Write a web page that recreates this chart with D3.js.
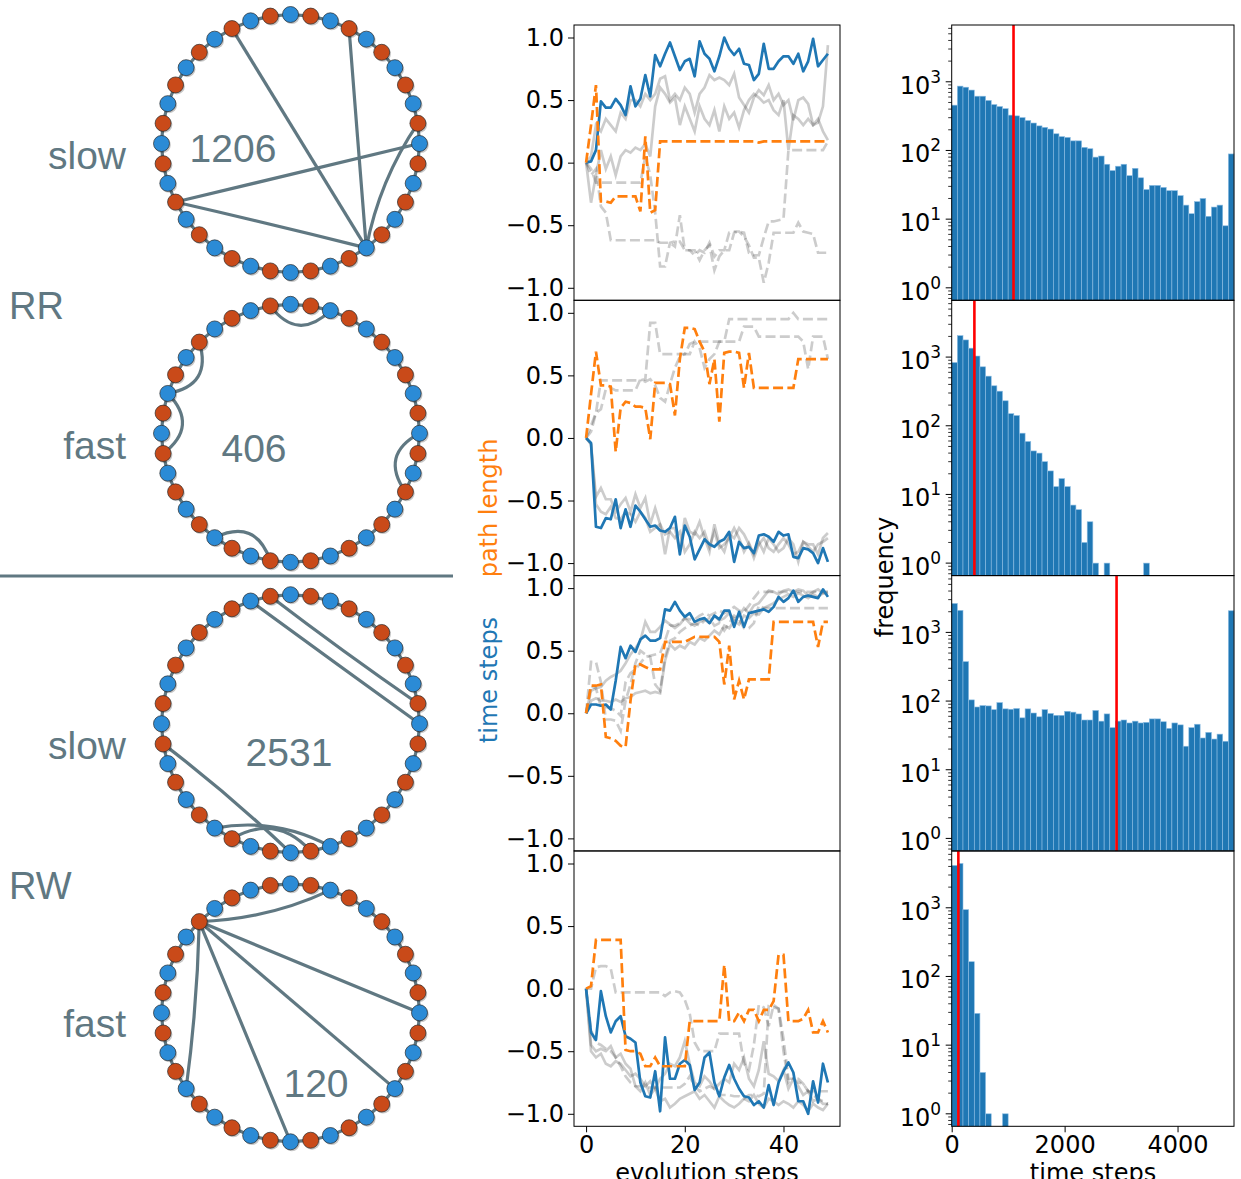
<!DOCTYPE html>
<html><head><meta charset="utf-8">
<script src="https://cdn.jsdelivr.net/npm/d3@7"></script>
<style>body{margin:0;background:#fff}svg{display:block}</style>
</head><body>
<script>
// ---------------- DATA ----------------
const nodeKinds = ["b","o","b","o","b","o","b","o","b","o","b","o","b","o","b","o","b","o","b","o",
                   "b","o","b","o","b","o","b","o","b","o","b","o","b","o","b","o","b","o","b","o"];
const edgesRRslow = [[37,16],[3,16],[27,10],[27,16],[9,16]];
const edgesRRfast = [[39,2],[35,32],[32,29],[10,13],[24,21]];
const edgesRWslow = [[38,10],[39,9],[29,20],[24,18],[23,19]];
const edgesRWfast = [[35,2],[35,10],[35,14],[35,20],[35,26]];
const circleNumbers = ["1206","406","2531","120"];
const speedLabels = ["slow","fast","slow","fast"];
const groupLabels = ["RR","RW"];

const blue1 = [0,0.01,0.1,0.49,0.44,0.44,0.51,0.46,0.38,0.61,0.45,0.51,0.70,0.53,0.86,0.77,0.87,0.96,0.85,0.74,0.81,0.83,0.69,0.97,0.87,0.83,0.73,0.85,1.0,0.91,0.86,0.91,0.79,0.78,0.66,0.71,0.95,0.75,0.75,0.81,0.85,0.85,0.79,0.87,0.73,0.81,0.99,0.77,0.82,0.87];
const orange1 = [0,0.3,0.62,-0.31,-0.31,-0.32,-0.27,-0.27,-0.27,-0.27,-0.27,-0.39,0.21,-0.40,-0.38,0.17,0.17,0.17,0.17,0.17,0.17,0.17,0.17,0.17,0.17,0.17,0.17,0.17,0.17,0.17,0.17,0.17,0.17,0.17,0.17,0.16,0.17,0.17,0.17,0.17,0.17,0.17,0.17,0.17,0.17,0.17,0.17,0.17,0.17,0.17];
const graySolid1a = [0,0.05,0.3,0.25,0.35,0.3,0.25,0.4,0.35,0.5,0.5,0.45,0.55,0.5,0.55,0.67,0.69,0.5,0.55,0.5,0.6,0.55,0.4,0.55,0.6,0.7,0.66,0.68,0.66,0.62,0.71,0.52,0.46,0.4,0.52,0.58,0.54,0.62,0.5,0.55,0.46,0.5,0.34,0.5,0.52,0.47,0.3,0.32,0.45,0.94];
const graySolid1b = [0,-0.32,-0.1,0.1,-0.05,0.05,-0.1,0.05,0.1,0.08,0.12,0.1,0.15,0.05,0.45,0.6,0.55,0.48,0.52,0.3,0.45,0.35,0.25,0.45,0.35,0.3,0.42,0.25,0.45,0.35,0.4,0.28,0.42,0.5,0.55,0.52,0.48,0.5,0.42,0.38,0.5,0.1,0.38,0.35,0.3,0.35,0.3,0.35,0.25,0.18];
const grayDash1a = [0,-0.05,-0.16,-0.16,-0.16,-0.16,-0.16,-0.16,-0.16,-0.16,-0.16,-0.16,0.05,-0.1,-0.4,-0.83,-0.83,-0.64,-0.63,-0.63,-0.70,-0.70,-0.70,-0.78,-0.70,-0.66,-0.86,-0.75,-0.70,-0.70,-0.56,-0.55,-0.56,-0.72,-0.74,-0.74,-0.6,-0.47,-0.47,-0.46,-0.45,0.1,0.1,0.1,0.1,0.1,0.1,0.1,0.1,0.17];
const grayDash1b = [0,-0.1,-0.05,-0.35,-0.4,-0.62,-0.62,-0.62,-0.62,-0.62,-0.62,-0.62,-0.62,-0.62,-0.62,-0.64,-0.64,-0.64,-0.67,-0.42,-0.70,-0.70,-0.74,-0.70,-0.72,-0.64,-0.75,-0.70,-0.70,-0.56,-0.55,-0.55,-0.59,-0.66,-0.76,-0.76,-0.96,-0.80,-0.56,-0.56,-0.56,-0.56,-0.56,-0.48,-0.55,-0.56,-0.57,-0.72,-0.72,-0.72];

const blue2 = [0,-0.04,-0.71,-0.72,-0.64,-0.65,-0.49,-0.72,-0.57,-0.71,-0.54,-0.59,-0.65,-0.71,-0.70,-0.74,-0.75,-0.72,-0.63,-0.93,-0.70,-0.79,-0.97,-0.89,-0.81,-0.85,-0.87,-0.83,-0.81,-0.75,-0.99,-0.83,-0.88,-0.87,-0.92,-0.78,-0.77,-0.79,-0.83,-0.75,-0.78,-0.77,-0.95,-0.96,-0.88,-0.89,-0.92,-1.0,-0.88,-0.99];
const orange2 = [0,0.35,0.69,0.42,0.42,0.41,-0.11,0.24,0.29,0.28,0.25,0.25,0.24,-0.01,0.44,0.44,0.44,0.43,0.18,0.63,0.88,0.88,0.87,0.77,0.69,0.43,0.63,0.13,0.68,0.69,0.69,0.68,0.40,0.68,0.40,0.40,0.40,0.40,0.40,0.40,0.40,0.40,0.40,0.63,0.63,0.63,0.63,0.63,0.63,0.63];
const graySolid2a = [0,-0.05,-0.47,-0.40,-0.49,-0.49,-0.59,-0.53,-0.48,-0.59,-0.45,-0.56,-0.48,-0.69,-0.56,-0.69,-0.93,-0.72,-0.72,-0.91,-0.64,-0.75,-0.77,-0.67,-0.80,-0.91,-0.69,-0.85,-0.91,-0.77,-0.80,-0.72,-0.77,-0.85,-0.96,-0.85,-0.80,-0.88,-0.91,-0.85,-0.80,-0.85,-0.93,-0.91,-0.83,-0.85,-0.85,-0.93,-0.80,-0.76];
const graySolid2b = [0,-0.05,-0.53,-0.59,-0.61,-0.55,-0.64,-0.65,-0.59,-0.61,-0.67,-0.59,-0.64,-0.75,-0.72,-0.69,-0.77,-0.75,-0.80,-0.75,-0.91,-0.85,-0.75,-0.80,-0.75,-0.87,-0.75,-0.88,-0.85,-0.80,-0.72,-0.80,-0.91,-0.84,-0.93,-0.83,-0.91,-0.80,-0.85,-0.91,-0.88,-0.80,-0.85,-0.99,-0.83,-0.87,-0.91,-0.85,-0.83,-0.80];
const grayDash2a = [0,0.05,0.2,0.46,0.46,0.46,0.46,0.46,0.46,0.46,0.46,0.46,0.47,0.92,0.92,0.67,0.67,0.67,0.67,0.67,0.67,0.75,0.77,0.77,0.77,0.77,0.77,0.77,0.77,0.95,0.95,0.95,0.95,0.95,0.95,0.95,0.95,0.95,0.95,0.95,0.95,0.95,1.0,0.95,0.95,0.95,0.95,0.95,0.95,0.95];
const grayDash2b = [0,0.1,0.2,0.23,0.39,0.40,0.38,0.38,0.38,0.38,0.38,0.47,0.45,0.47,0.42,0.32,0.29,0.43,0.56,0.65,0.67,0.67,0.77,0.72,0.56,0.63,0.67,0.77,0.77,0.77,0.77,0.77,0.89,0.89,0.89,0.81,0.81,0.81,0.81,0.81,0.81,0.81,0.81,0.81,0.77,0.55,0.81,0.81,0.81,0.63];

const blue3 = [0,0.07,0.07,0.06,0.07,0.03,0.26,0.53,0.44,0.54,0.49,0.59,0.62,0.58,0.58,0.6,0.83,0.82,0.89,0.82,0.77,0.80,0.73,0.75,0.76,0.72,0.78,0.75,0.82,0.82,0.69,0.81,0.69,0.80,0.81,0.82,0.83,0.81,0.85,0.93,0.89,0.92,0.98,0.89,0.93,0.94,0.93,0.92,0.99,0.93];
const orange3 = [0,0.22,0.22,0.23,-0.19,-0.2,-0.22,-0.26,-0.27,0.1,0.39,0.39,0.37,0.35,0.35,0.35,0.57,0.57,0.57,0.57,0.57,0.59,0.61,0.61,0.61,0.61,0.61,0.57,0.23,0.54,0.11,0.26,0.11,0.27,0.27,0.27,0.27,0.27,0.73,0.73,0.73,0.73,0.73,0.73,0.73,0.73,0.73,0.53,0.73,0.73];
const graySolid3a = [0,0.18,0.2,0.21,0.26,0.29,0.31,0.34,0.4,0.47,0.52,0.58,0.73,0.65,0.65,0.69,0.74,0.71,0.68,0.71,0.76,0.72,0.7,0.73,0.75,0.72,0.78,0.74,0.76,0.8,0.75,0.78,0.84,0.8,0.86,0.88,0.93,0.98,0.97,0.95,0.98,0.99,0.97,0.99,0.98,0.94,0.97,0.99,0.96,0.97];
const graySolid3b = [0,0.1,0.12,0.1,0.1,0.09,0.11,0.09,0.12,0.13,0.16,0.17,0.18,0.16,0.17,0.16,0.42,0.55,0.51,0.54,0.52,0.57,0.55,0.6,0.58,0.62,0.66,0.63,0.7,0.68,0.74,0.71,0.78,0.76,0.8,0.79,0.84,0.86,0.88,0.91,0.93,0.95,0.93,0.96,0.94,0.92,0.95,0.93,0.96,0.95];
const grayDash3a = [0,0.41,0.41,0.25,-0.05,-0.05,-0.06,-0.14,0.1,0.23,0.4,0.5,0.47,0.45,0.23,0.18,0.45,0.58,0.6,0.65,0.68,0.7,0.72,0.7,0.74,0.76,0.7,0.72,0.66,0.72,0.78,0.75,0.68,0.68,0.72,0.86,0.84,0.84,0.84,0.84,0.84,0.84,0.84,0.84,0.84,0.84,0.84,0.84,0.84,0.84];
const grayDash3b = [0,0.22,0.2,0.05,0.05,0.04,0.02,-0.02,0.25,0.32,0.35,0.4,0.45,0.46,0.47,0.48,0.58,0.7,0.7,0.72,0.76,0.75,0.75,0.78,0.8,0.78,0.8,0.82,0.8,0.82,0.85,0.82,0.81,0.86,0.92,0.97,0.97,0.97,0.97,0.97,0.97,0.97,0.97,0.97,0.97,0.97,0.97,0.97,0.97,0.97];

const blue4 = [0,-0.35,-0.41,-0.02,-0.22,-0.35,-0.26,-0.22,-0.38,-0.40,-0.43,-0.75,-0.86,-0.87,-0.66,-0.98,-0.39,-0.72,-0.72,-0.60,-0.57,-0.61,-0.81,-0.75,-0.55,-0.51,-0.75,-0.86,-0.71,-0.61,-0.72,-0.80,-0.86,-0.87,-0.93,-0.90,-0.95,-0.77,-0.93,-0.75,-0.66,-0.59,-0.67,-0.90,-0.90,-1.0,-0.74,-0.91,-0.60,-0.75];
const orange4 = [0,0.02,0.39,0.39,0.39,0.39,0.39,0.39,-0.49,-0.5,-0.5,-0.52,-0.62,-0.62,-0.55,-0.62,-0.62,-0.62,-0.62,-0.62,-0.62,-0.26,-0.26,-0.26,-0.26,-0.26,-0.26,-0.26,0.19,-0.26,-0.26,-0.19,-0.26,-0.17,-0.17,-0.26,-0.17,-0.17,-0.1,0.27,0.27,-0.26,-0.26,-0.26,-0.24,-0.17,-0.35,-0.35,-0.26,-0.35];
const graySolid4a = [0,-0.45,-0.5,-0.48,-0.5,-0.46,-0.55,-0.52,-0.6,-0.64,-0.78,-0.82,-0.75,-0.85,-0.8,-0.9,-0.88,-0.95,-0.92,-0.88,-0.86,-0.84,-0.82,-0.88,-0.85,-0.9,-0.95,-0.86,-0.9,-0.93,-0.95,-0.92,-0.88,-0.9,-0.85,-0.92,-0.95,-0.88,-0.9,-0.93,-0.9,-0.92,-0.95,-0.9,-0.93,-0.98,-0.92,-0.95,-0.97,-0.92];
const graySolid4b = [0,-0.5,-0.55,-0.52,-0.6,-0.62,-0.58,-0.6,-0.65,-0.7,-0.68,-0.72,-0.78,-0.74,-0.8,-0.72,-0.68,-0.6,-0.62,-0.55,-0.42,-0.6,-0.75,-0.78,-0.7,-0.74,-0.8,-0.76,-0.72,-0.75,-0.6,-0.65,-0.55,-0.72,-0.78,-0.65,-0.42,-0.68,-0.7,-0.74,-0.65,-0.8,-0.72,-0.78,-0.85,-0.82,-0.9,-0.88,-0.92,-0.92];
const grayDash4a = [0,0.0,0.17,0.18,0.18,0.16,-0.03,-0.03,-0.03,-0.03,-0.03,-0.03,-0.03,-0.03,-0.03,-0.03,-0.06,-0.03,-0.02,-0.03,-0.09,-0.2,-0.43,-0.5,-0.5,-0.5,-0.5,-0.36,-0.36,-0.36,-0.36,-0.36,-0.6,-0.65,-0.45,-0.13,-0.15,-0.3,-0.13,-0.16,-0.4,-0.72,-0.72,-0.72,-0.76,-0.82,-0.82,-0.82,-0.82,-0.82];
const grayDash4b = [0,-0.33,-0.43,-0.45,-0.48,-0.5,-0.55,-0.62,-0.7,-0.75,-0.78,-0.78,-0.79,-0.79,-0.79,-0.79,-0.79,-0.79,-0.79,-0.79,-0.76,-0.7,-0.78,-0.82,-0.8,-0.78,-0.8,-0.85,-0.85,-0.85,-0.86,-0.86,-0.88,-0.85,-0.85,-0.86,-0.84,-0.14,-0.15,-0.16,-0.5,-0.75,-0.72,-0.75,-0.76,-0.82,-0.85,-0.88,-0.9,-0.92];

const lineYTicks = [-1.0,-0.5,0.0,0.5,1.0];
const lineXTicks = [0,20,40];

const hist1 = [457,865,834,758,617,617,535,466,436,406,327,319,301,273,251,228,217,205,175,159,155,138,138,111,106,80,83,63,51,59,63,43,55,40,27,31,31,29,26,26,22,16,12,18,20,11,15,16,8,89];
const hist2 = [834,2052,1778,1349,1036,722,528,382,319,231,150,141,78,59,43,40,30,22,13,17,13,7,6,2,4,1,0,1,0,0,0,0,0,0,1,0,0,0,0,0,0,0,0,0,0,0,0,0,0,0];
const hist3 = [2638,2090,375,104,82,86,85,75,95,77,76,78,57,77,67,59,75,66,62,62,71,69,65,53,53,73,51,65,41,51,53,48,51,48,49,55,55,50,40,48,45,22,41,46,29,35,28,33,26,2065];
const hist4 = [4140,4420,939,164,29,4,1,0,0,1,0,0,0,0,0,0,0,0,0,0,0,0,0,0,0,0,0,0,0,0,0,0,0,0,0,0,0,0,0,0,0,0,0,0,0,0,0,0,0,0];
const histMeans = [1095,402,2920,118];
const binWidth = 100;
const histXTicks = [0,2000,4000];
const histYTicks = [1,10,100,1000];

// ---------------- LAYOUT / STYLE ----------------
const W=1241,H=1179;
const slate="#607882", nodeBlue="#2b8bd6", nodeOrange="#c94a19";
const mplBlue="#1f77b4", mplOrange="#ff7f0e";
const svg=d3.select("body").append("svg").attr("width",W).attr("height",H)
  .style("font-family","'DejaVu Sans', sans-serif");

// ---------- left: circle graphs ----------
const circleCY=[143.5,433.3,723.7,1012.8], circleCX=290.5, R=129, nodeR=8;
const allEdges=[edgesRRslow,edgesRRfast,edgesRWslow,edgesRWfast];
const numPos=[[233,162],[254,462],[289,766],[316,1097]];
const angle=d3.scaleLinear().domain([0,nodeKinds.length]).range([0,2*Math.PI]);
function bend(s){return 17*Math.exp(-Math.pow(s-3,2)/18);}

allEdges.forEach((edges,ci)=>{
  const cy=circleCY[ci], cx=circleCX;
  const g=svg.append("g").attr("transform",`translate(${cx},${cy})`);
  const pts=nodeKinds.map((k,i)=>d3.pointRadial(angle(i),R));
  g.append("path").attr("d",d3.lineRadial().angle((d,i)=>angle(i)).radius(R).curve(d3.curveLinearClosed)(nodeKinds))
    .attr("fill","none").attr("stroke",slate).attr("stroke-width",3.2);
  edges.forEach(([a,b])=>{
    const p0=pts[a],p2=pts[b];
    let s=Math.abs(a-b); s=Math.min(s,nodeKinds.length-s);
    const mx=(p0[0]+p2[0])/2,my=(p0[1]+p2[1])/2,m=Math.hypot(mx,my);
    const k=1-2*bend(s)/m;
    const path=d3.path(); path.moveTo(p0[0],p0[1]); path.quadraticCurveTo(mx*k,my*k,p2[0],p2[1]);
    g.append("path").attr("d",path.toString()).attr("fill","none").attr("stroke",slate).attr("stroke-width",3.2);
  });
  g.selectAll("circle.sh").data(pts).join("circle").attr("class","sh")
    .attr("cx",d=>d[0]+1.3).attr("cy",d=>d[1]+1.5).attr("r",nodeR).attr("fill","rgba(0,0,0,0.22)");
  g.selectAll("circle.nd").data(pts).join("circle").attr("class","nd")
    .attr("cx",d=>d[0]).attr("cy",d=>d[1]).attr("r",nodeR)
    .attr("fill",(d,i)=>nodeKinds[i]==="b"?nodeBlue:nodeOrange)
    .attr("stroke","#2a2a2a").attr("stroke-width",0.7);
  svg.append("text").attr("x",numPos[ci][0]).attr("y",numPos[ci][1]).attr("text-anchor","middle")
    .style("font-family","'Liberation Sans', Arial, sans-serif").attr("font-size",39).attr("fill",slate)
    .text(circleNumbers[ci]);
});
const speedY=[169,459,759,1037];
speedLabels.forEach((t,i)=>svg.append("text").attr("x",126).attr("y",speedY[i]).attr("text-anchor","end")
  .style("font-family","'Liberation Sans', Arial, sans-serif").attr("font-size",39).attr("fill",slate).text(t));
const groupY=[319,899];
groupLabels.forEach((t,i)=>svg.append("text").attr("x",9).attr("y",groupY[i])
  .style("font-family","'Liberation Sans', Arial, sans-serif").attr("font-size",38).attr("fill",slate).text(t));
svg.append("line").attr("x1",0).attr("x2",453).attr("y1",576).attr("y2",576).attr("stroke",slate).attr("stroke-width",3);

// ---------- middle: line panels ----------
const panelTops=[25,300.3,575.6,851], PH=275.3;
const xL=d3.scaleLinear().domain([-2.45,51.45]).range([574,840]);
const linePanels=[
  {blue:blue1,orange:orange1,solid:[graySolid1a,graySolid1b],dash:[grayDash1a,grayDash1b]},
  {blue:blue2,orange:orange2,solid:[graySolid2a,graySolid2b],dash:[grayDash2a,grayDash2b]},
  {blue:blue3,orange:orange3,solid:[graySolid3a,graySolid3b],dash:[grayDash3a,grayDash3b]},
  {blue:blue4,orange:orange4,solid:[graySolid4a,graySolid4b],dash:[grayDash4a,grayDash4b]}];
const fmt=d=>d3.format(".1f")(d).replace("-","\u2212");
const LW=2.7, dashArr="10,4.3";
linePanels.forEach((p,pi)=>{
  const top=panelTops[pi];
  const yS=d3.scaleLinear().domain([-1.1,1.1]).range([top+PH,top]);
  const line=d3.line().x((d,i)=>xL(i)).y(d=>yS(d));
  const g=svg.append("g");
  p.dash.forEach(s=>g.append("path").attr("d",line(s)).attr("fill","none").attr("stroke","#000").attr("stroke-opacity",0.2)
    .attr("stroke-width",LW).attr("stroke-dasharray",dashArr));
  p.solid.forEach(s=>g.append("path").attr("d",line(s)).attr("fill","none").attr("stroke","#000").attr("stroke-opacity",0.2)
    .attr("stroke-width",LW));
  g.append("path").attr("d",line(p.blue)).attr("fill","none").attr("stroke",mplBlue).attr("stroke-width",LW).attr("stroke-linejoin","round");
  g.append("path").attr("d",line(p.orange)).attr("fill","none").attr("stroke",mplOrange).attr("stroke-width",LW).attr("stroke-dasharray",dashArr);
  g.append("rect").attr("x",574).attr("y",top).attr("width",266).attr("height",PH).attr("fill","none").attr("stroke","#000").attr("stroke-width",1);
  const ax=svg.append("g").attr("transform","translate(574,0)")
    .call(d3.axisLeft(yS).tickValues(lineYTicks).tickFormat(fmt).tickSize(6).tickPadding(4));
  ax.select(".domain").remove();
  ax.selectAll("text").attr("font-size",24).style("font-family","'DejaVu Sans'").attr("fill","#000");
  ax.selectAll("line").attr("stroke","#000");
  if(pi===3){
    const bx=svg.append("g").attr("transform",`translate(0,${top+PH})`)
      .call(d3.axisBottom(xL).tickValues(lineXTicks).tickSize(6).tickPadding(4));
    bx.select(".domain").remove();
    bx.selectAll("text").attr("font-size",24).style("font-family","'DejaVu Sans'").attr("fill","#000");
  }
});
svg.append("text").attr("transform","translate(497,508) rotate(-90)").attr("text-anchor","middle")
  .attr("font-size",24).attr("fill",mplOrange).text("path length");
svg.append("text").attr("transform","translate(497,680) rotate(-90)").attr("text-anchor","middle")
  .attr("font-size",24).attr("fill",mplBlue).text("time steps");
svg.append("text").attr("x",707).attr("y",1181).attr("text-anchor","middle").attr("font-size",24).text("evolution steps");

// ---------- right: histograms ----------
const hx=d3.scaleLinear().domain([0,5000]).range([951.7,1234]);
const hists=[hist1,hist2,hist3,hist4];
hists.forEach((h,pi)=>{
  const top=panelTops[pi], bot=top+PH;
  const hy=d3.scaleLog().domain([0.658,6714]).range([bot,top]);
  const g=svg.append("g");
  g.selectAll("rect.bar").data(h.map((c,i)=>({c,i})).filter(d=>d.c>0)).join("rect").attr("class","bar")
    .attr("x",d=>hx(d.i*binWidth)).attr("width",d=>hx((d.i+1)*binWidth)-hx(d.i*binWidth))
    .attr("y",d=>hy(d.c)).attr("height",d=>bot-hy(d.c))
    .attr("fill",mplBlue).attr("stroke","#8dbde3").attr("stroke-width",0.6);
  g.append("line").attr("x1",hx(histMeans[pi])).attr("x2",hx(histMeans[pi])).attr("y1",top).attr("y2",bot)
    .attr("stroke","#ff0000").attr("stroke-width",2.6);
  g.append("rect").attr("x",951.7).attr("y",top).attr("width",282.3).attr("height",PH).attr("fill","none").attr("stroke","#000").attr("stroke-width",1);
  const minors=[];
  [-1,0,1,2,3].forEach(e=>{for(let m=2;m<=9;m++){const v=m*Math.pow(10,e); if(v>=0.658&&v<=6714) minors.push(v);}});
  g.selectAll("line.mn").data(minors).join("line").attr("class","mn")
    .attr("x1",951.7-3.5).attr("x2",951.7).attr("y1",d=>hy(d)).attr("y2",d=>hy(d)).attr("stroke","#000").attr("stroke-width",0.8);
  g.selectAll("line.mj").data(histYTicks).join("line").attr("class","mj")
    .attr("x1",951.7-6).attr("x2",951.7).attr("y1",d=>hy(d)).attr("y2",d=>hy(d)).attr("stroke","#000").attr("stroke-width",1);
  histYTicks.forEach(v=>{
    const t=g.append("text").attr("x",941).attr("y",hy(v)+12).attr("text-anchor","end").attr("font-size",24);
    t.append("tspan").text("10");
    t.append("tspan").attr("font-size",17).attr("dy",-11).text(String(Math.round(Math.log10(v))));
  });
  if(pi===3){
    const bx=svg.append("g").attr("transform",`translate(0,${bot})`)
      .call(d3.axisBottom(hx).tickValues(histXTicks).tickFormat(d3.format("d")).tickSize(6).tickPadding(4));
    bx.select(".domain").remove();
    bx.selectAll("text").attr("font-size",24).style("font-family","'DejaVu Sans'").attr("fill","#000");
  }
});
svg.append("text").attr("transform","translate(893,577) rotate(-90)").attr("text-anchor","middle")
  .attr("font-size",24).text("frequency");
svg.append("text").attr("x",1093).attr("y",1181).attr("text-anchor","middle").attr("font-size",24).text("time steps");
</script>
</body></html>
